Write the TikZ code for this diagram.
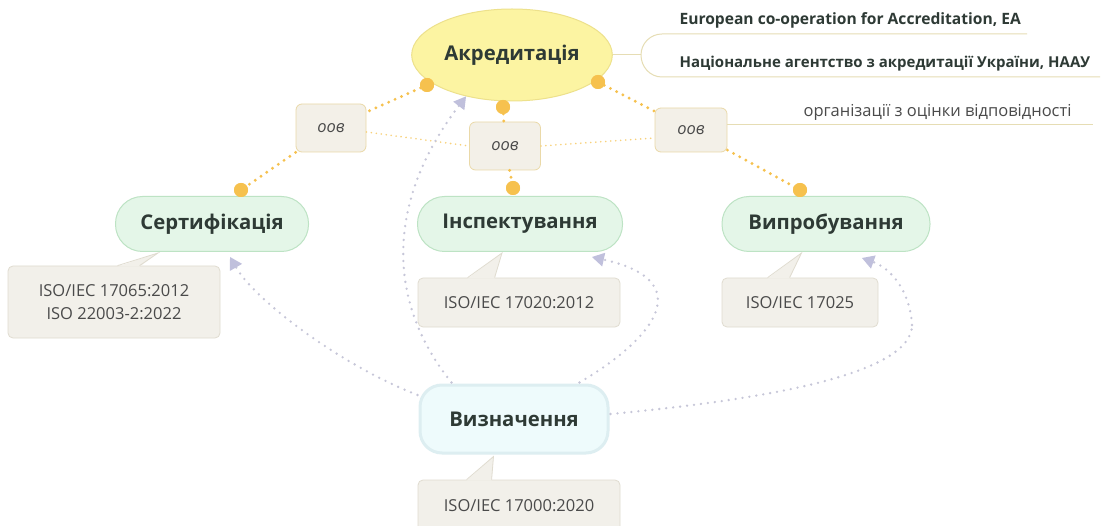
\documentclass[tikz,border=0pt]{standalone}
\usepackage{fontspec}
\setmainfont{Open Sans}
\usetikzlibrary{shapes.geometric,arrows.meta,calc}
\definecolor{akrfill}{HTML}{FCF4A2}
\definecolor{akrline}{HTML}{EDE18C}
\definecolor{grfill}{HTML}{E4F6E8}
\definecolor{grline}{HTML}{BDE3C4}
\definecolor{deffill}{HTML}{EEFBFC}
\definecolor{defline}{HTML}{DDEEF1}
\definecolor{callfill}{HTML}{F2F0EA}
\definecolor{callline}{HTML}{E0DCD0}
\definecolor{oovfill}{HTML}{F3F0E8}
\definecolor{oovline}{HTML}{EAD9A8}
\definecolor{orng}{HTML}{F6C14E}
\definecolor{lav}{HTML}{C6C6D8}
\definecolor{lavtip}{HTML}{C0C0DC}
\definecolor{beige}{HTML}{E6DDB4}
\definecolor{txtdark}{HTML}{2E3A35}
\definecolor{txtgray}{HTML}{4A4A4A}
\begin{document}
\begin{tikzpicture}[x=1pt,y=-1pt,
  mainnode/.style={rounded corners=27pt, fill=grfill, draw=grline, line width=1pt,
    minimum height=55pt, font=\bfseries\fontsize{20.3}{24}\selectfont, text=txtdark},
  callbox/.style={rounded corners=5pt, fill=callfill, draw=callline, line width=0.8pt,
    font=\fontsize{16.5}{23}\selectfont, text=txtgray, align=center},
  oovbox/.style={rounded corners=6pt, fill=oovfill, draw=oovline, line width=0.8pt,
    font=\itshape\fontsize{16.5}{18}\selectfont, text=txtgray},
  odot/.style={circle, fill=orng, inner sep=0pt, minimum size=14pt},
  orlink/.style={draw=orng, line width=3.2pt, dash pattern=on 0pt off 7pt, line cap=round},
  faintlink/.style={draw=orng!75, line width=1.8pt, dash pattern=on 0pt off 5pt, line cap=round},
  lavlink/.style={draw=lav, line width=2.6pt, dash pattern=on 0pt off 7pt, line cap=round,
    -{Triangle[width=14pt,length=12pt,fill=lavtip,line width=0pt]}},
  lavplain/.style={draw=lav, line width=2.6pt, dash pattern=on 0pt off 7pt, line cap=round},
  beigeline/.style={draw=beige, line width=1pt},
  ptr/.style={fill=callfill},
  ptrline/.style={draw=callline, line width=0.8pt}
]
\clip (0,0) rectangle (1102,526);
\fill[white] (0,0) rectangle (1102,526);

% main nodes
\node[ellipse, fill=akrfill, draw=akrline, line width=1pt, minimum width=188pt, minimum height=92pt,
  font=\bfseries\fontsize{20.3}{24}\selectfont, text=txtdark] (akr) at (512,55) {Акредитація};
\node[mainnode, minimum width=193pt] (cert) at (212,224) {Сертифікація};
\node[mainnode, minimum width=205pt] (insp) at (520,224) {Інспектування};
\node[mainnode, minimum width=208pt] (vyp) at (826,224) {Випробування};
\node[rounded corners=22pt, fill=deffill, draw=defline, line width=3pt, minimum width=188pt, minimum height=68pt,
  font=\bfseries\fontsize{20.3}{24}\selectfont, text=txtdark] (defn) at (514,419) {Визначення};

% oov boxes
\node[oovbox, minimum width=70pt, minimum height=48pt] (b1) at (331,128) {оов};
\node[oovbox, minimum width=71pt, minimum height=48pt] (b2) at (505,146) {оов};
\node[oovbox, minimum width=72pt, minimum height=44pt] (b3) at (691,130) {оов};

% orange dots
\node[odot] (d1) at (427,85) {};
\node[odot] (d2) at (503,107) {};
\node[odot] (d3) at (598,82) {};
\node[odot] (d4) at (241,190) {};
\node[odot] (d5) at (513,188) {};
\node[odot] (d6) at (800,190) {};

% orange dotted links
\draw[orlink] (d1.center) -- (b1);
\draw[orlink] (b1) -- (d4.center);
\draw[orlink] (d2.center) -- (b2);
\draw[orlink] (b2) -- (d5.center);
\draw[orlink] (d3.center) -- (b3);
\draw[orlink] (b3) -- (d6.center);
\node[odot] at (d1) {};
\node[odot] at (d2) {};
\node[odot] at (d3) {};
\node[odot] at (d4) {};
\node[odot] at (d5) {};
\node[odot] at (d6) {};

% faint chain between oov boxes
\draw[faintlink] ($(b1.east)+(0,4)$) -- (b2.west);
\draw[faintlink] (b2.east) -- ($(b3.west)+(0,8)$);

% right labels
\coordinate (oe) at (1093,125);
\draw[beigeline] (b3.east |- oe) -- (oe);
\node[anchor=west, font=\fontsize{16.5}{18}\selectfont, text=txtgray] (oovtxt) at (800,112) {організації з оцінки відповідності};

\coordinate (br) at (641,55);
\draw[beigeline] (akr.east) -- (br);
\draw[beigeline] (1027,34) -- (662,34) to[out=180,in=90] (br) to[out=-90,in=180] (662,77) -- (1100,77);
\node[anchor=west, font=\bfseries\fontsize{15.6}{18}\selectfont, text=txtdark] (ea) at (676,20) {European co-operation for Accreditation, EA};
\node[anchor=west, font=\bfseries\fontsize{15}{18}\selectfont, text=txtdark] (naau) at (676,64) {Національне агентство з акредитації України, НААУ};

% callouts
\node[callbox, minimum width=212pt, minimum height=72pt] (c1) at (114,302) {ISO/IEC 17065:2012\\ISO 22003-2:2022};
\node[callbox, minimum width=202pt, minimum height=49pt] (c2) at (519,302.5) {ISO/IEC 17020:2012};
\node[callbox, minimum width=156pt, minimum height=49pt] (c3) at (800,302.5) {ISO/IEC 17025};
\node[callbox, minimum width=202pt, minimum height=64pt, text depth=12pt] (c4) at (519,512) {ISO/IEC 17000:2020};

% callout pointers
\fill[ptr] ($(c1.north west)+(110,1)$) -- ($(cert.south west)+(43,1)$) -- ($(c1.north west)+(132,1)$) -- cycle;
\draw[ptrline] ($(c1.north west)+(110,0)$) -- ($(cert.south west)+(43,1)$) -- ($(c1.north west)+(132,0)$);
\fill[ptr] ($(c2.north west)+(50,1)$) -- ($(insp.south west)+(85,1)$) -- ($(c2.north west)+(77,1)$) -- cycle;
\draw[ptrline] ($(c2.north west)+(50,0)$) -- ($(insp.south west)+(85,1)$) -- ($(c2.north west)+(77,0)$);
\fill[ptr] ($(c3.north west)+(46,1)$) -- ($(vyp.south west)+(80,1)$) -- ($(c3.north west)+(68,1)$) -- cycle;
\draw[ptrline] ($(c3.north west)+(46,0)$) -- ($(vyp.south west)+(80,1)$) -- ($(c3.north west)+(68,0)$);
\fill[ptr] ($(c4.north west)+(49,1)$) -- ($(defn.south west)+(75,2)$) -- ($(c4.north west)+(74,1)$) -- cycle;
\draw[ptrline] ($(c4.north west)+(49,0)$) -- ($(defn.south west)+(75,2)$) -- ($(c4.north west)+(74,0)$);

% lavender relation curves
\draw[lavlink] ($(defn.north west)+(33,-1)$) .. controls (385,300) and (387,200) .. (akr.222);
\draw[lavlink] ($(defn.west)+(-1,-24)$) .. controls (340,365) and (255,300) .. ($(cert.south)+(18,5)$);
\draw[lavlink] ($(defn.north east)+(-30,-1)$) .. controls (660,335) and (695,280) .. ($(insp.south)+(72,5)$);
\draw[lavplain] ($(defn.east)+(1,-5)$) .. controls (760,400) and (912,375) .. (912,325);
\draw[lavlink] (912,325) .. controls (910,290) and (890,268) .. ($(vyp.south)+(36,6)$);
\end{tikzpicture}
\end{document}
